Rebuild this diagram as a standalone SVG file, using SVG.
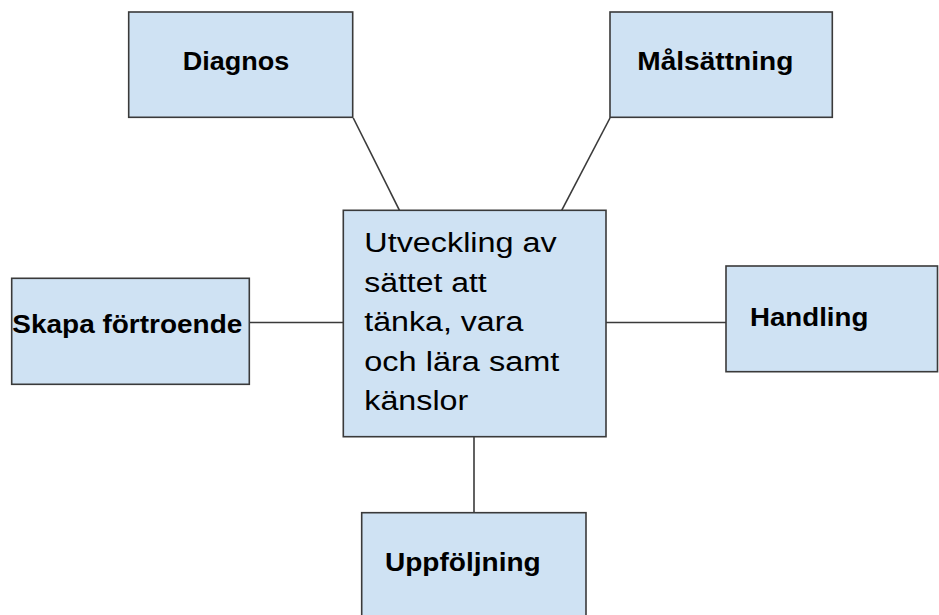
<svg xmlns="http://www.w3.org/2000/svg" width="939" height="615" viewBox="0 0 939 615">
<style>
.box{fill:#cfe2f3;stroke:#3a3a3a;stroke-width:1.6}
.lbl{font-family:"Liberation Sans",Arial,sans-serif;font-weight:bold;font-size:25px;fill:#000}
.body{font-family:"Liberation Sans",Arial,sans-serif;font-size:27px;fill:#000}
.conn{stroke:#3a3a3a;stroke-width:1.6;fill:none}
</style>
<rect width="939" height="615" fill="#fff"/>
<g id="connectors">
<line class="conn" x1="353.3" y1="118" x2="399.5" y2="210.3"/>
<line class="conn" x1="610" y1="118" x2="561.7" y2="210.3"/>
<line class="conn" x1="249.3" y1="322.5" x2="343.3" y2="322.5"/>
<line class="conn" x1="606" y1="322.5" x2="726" y2="322.5"/>
<line class="conn" x1="474" y1="436.7" x2="474" y2="512.7"/>
</g>
<g id="diagnos">
<rect class="box" x="128.7" y="12" width="224" height="105.3"/>
<text class="lbl" x="182.7" y="69.5" textLength="106.5" lengthAdjust="spacingAndGlyphs">Diagnos</text>
</g>
<g id="malsattning">
<rect class="box" x="610" y="12" width="222.3" height="105.3"/>
<text class="lbl" x="637.3" y="70" textLength="156" lengthAdjust="spacingAndGlyphs">Målsättning</text>
</g>
<g id="center">
<rect class="box" x="343.3" y="210.3" width="262.7" height="226.4"/>
<text class="body" x="364.3" y="252" textLength="192.4" lengthAdjust="spacingAndGlyphs">Utveckling av</text>
<text class="body" x="364.3" y="291.5" textLength="122.4" lengthAdjust="spacingAndGlyphs">sättet att</text>
<text class="body" x="364.3" y="331" textLength="159" lengthAdjust="spacingAndGlyphs">tänka, vara</text>
<text class="body" x="364.3" y="370.5" textLength="195" lengthAdjust="spacingAndGlyphs">och lära samt</text>
<text class="body" x="364.3" y="410" textLength="104" lengthAdjust="spacingAndGlyphs">känslor</text>
</g>
<g id="skapa">
<rect class="box" x="11.7" y="278.3" width="237.6" height="106"/>
<text class="lbl" x="12.3" y="333.3" textLength="230" lengthAdjust="spacingAndGlyphs">Skapa förtroende</text>
</g>
<g id="handling">
<rect class="box" x="726" y="266" width="211.5" height="105.7"/>
<text class="lbl" x="750" y="326" textLength="118.3" lengthAdjust="spacingAndGlyphs">Handling</text>
</g>
<g id="uppfoljning">
<rect class="box" x="361.7" y="512.7" width="224.3" height="115"/>
<text class="lbl" x="385" y="571" textLength="155.7" lengthAdjust="spacingAndGlyphs">Uppföljning</text>
</g>
</svg>
